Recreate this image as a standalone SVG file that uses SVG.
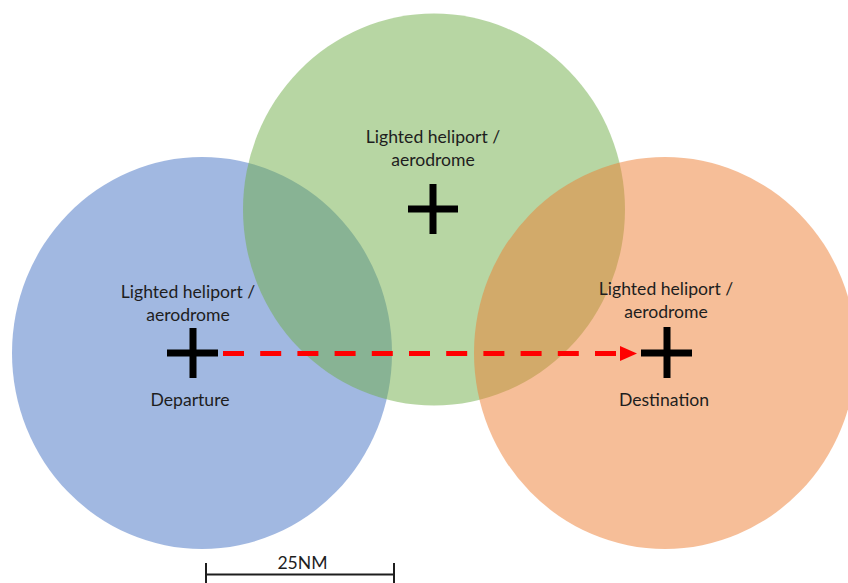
<svg xmlns="http://www.w3.org/2000/svg" width="848" height="583" viewBox="0 0 848 583">
<style>
.zone{fill-opacity:0.5;stroke:none}
.lbl{font-family:Lato,"Open Sans","Liberation Sans",sans-serif;font-size:17.6px;fill:#1e1e1e;text-anchor:middle}
.cross{stroke:#000;stroke-width:7;fill:none}
.route{stroke:#ff0000;stroke-width:5;stroke-dasharray:21 16.2;fill:none}
.scale{stroke:#1e1e1e;stroke-width:2;fill:none}
</style>
<rect width="848" height="583" fill="#fff"/>
<g id="zone-departure"><ellipse class="zone" cx="202" cy="353" rx="190" ry="196" fill="#4472C4"/></g>
<g id="zone-alternate"><ellipse class="zone" cx="434" cy="209.5" rx="191" ry="196" fill="#70AD47"/></g>
<g id="zone-destination"><ellipse class="zone" cx="665" cy="353" rx="191" ry="196" fill="#ED7D31"/></g>
<g id="connectors">
<line class="route" x1="223" y1="353.5" x2="617" y2="353.5"/>
<polygon points="620,346 637,353.5 620,361" fill="#ff0000"/>
</g>
<g id="departure">
<text class="lbl" x="188" y="298">Lighted heliport /</text>
<text class="lbl" x="188" y="321">aerodrome</text>
<path class="cross" d="M167 353H218M193 328V378"/>
<text class="lbl" x="190" y="406">Departure</text>
</g>
<g id="alternate">
<text class="lbl" x="433" y="143">Lighted heliport /</text>
<text class="lbl" x="433" y="166">aerodrome</text>
<path class="cross" d="M408 209H458M433 184V234"/>
</g>
<g id="destination">
<text class="lbl" x="666" y="295">Lighted heliport /</text>
<text class="lbl" x="666" y="318">aerodrome</text>
<path class="cross" d="M641 353H692M667 327V378"/>
<text class="lbl" x="664" y="406">Destination</text>
</g>
<g id="scale-bar">
<path class="scale" d="M206 574.5H394M206 563V583M394 563V583"/>
<text class="lbl" x="302.5" y="569">25NM</text>
</g>
</svg>
